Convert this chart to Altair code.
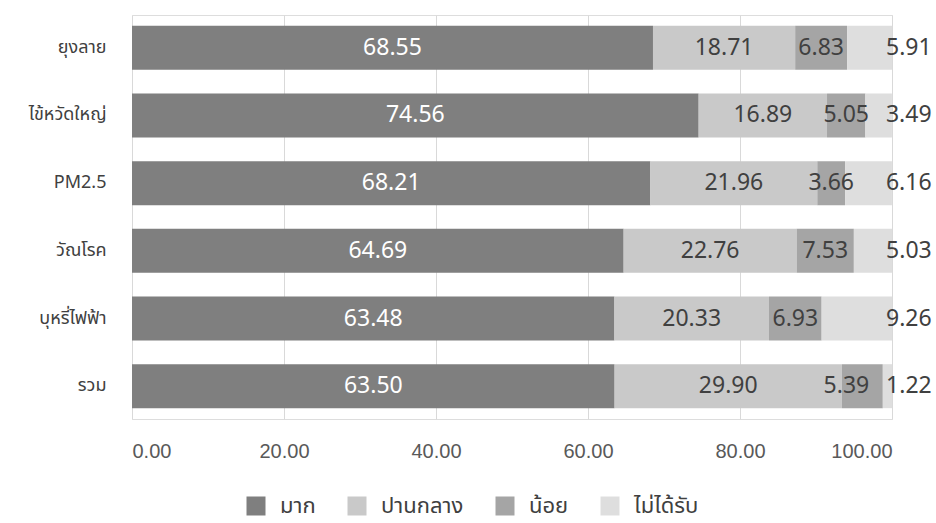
import altair as alt
import pandas as pd

categories = ["ยุงลาย", "ไข้หวัดใหญ่", "PM2.5", "วัณโรค", "บุหรี่ไฟฟ้า", "รวม"]
series = ["มาก", "ปานกลาง", "น้อย", "ไม่ได้รับ"]
much = [68.55, 74.56, 68.21, 64.69, 63.48, 63.50]
medium = [18.71, 16.89, 21.96, 22.76, 20.33, 29.90]
little = [6.83, 5.05, 3.66, 7.53, 6.93, 5.39]
none_ = [5.91, 3.49, 6.16, 5.03, 9.26, 1.22]
colors = ["#7f7f7f", "#c9c9c9", "#a5a5a5", "#dedede"]
x_ticks = [0, 20, 40, 60, 80, 100]

rows = []
for i, cat in enumerate(categories):
    vals = [much[i], medium[i], little[i], none_[i]]
    start = 0.0
    for j, s in enumerate(series):
        rows.append({
            "cat": cat, "series": s, "order": j, "value": vals[j],
            "start": start, "end": start + vals[j],
            "mid": start + vals[j] / 2, "label": f"{vals[j]:.2f}",
        })
        start += vals[j]
df = pd.DataFrame(rows)

FONT = "Tahoma, Leelawadee UI, Noto Sans Thai, Noto Sans, DejaVu Sans, sans-serif"
AXFONT = "Arial, Liberation Sans, sans-serif"

y_enc = alt.Y("cat:N", sort=categories, title=None,
              scale=alt.Scale(paddingInner=0.35, paddingOuter=0.16),
              axis=alt.Axis(labelFontSize=18, labelColor="#404040", labelFont=FONT,
                            labelPadding=26, ticks=False, domain=False))

bars = alt.Chart(df).mark_bar().encode(
    x=alt.X("start:Q", scale=alt.Scale(domain=[0, 100], nice=False), title=None,
            axis=alt.Axis(values=x_ticks, format=".2f", labelFontSize=20,
                          labelColor="#595959", labelFont=AXFONT, labelPadding=22,
                          grid=True, gridColor="#d9d9d9", ticks=False, domain=False)),
    x2="end:Q",
    y=y_enc,
    color=alt.Color("series:N", sort=series,
                    scale=alt.Scale(domain=series, range=colors),
                    legend=alt.Legend(title=None, orient="none", direction="horizontal",
                                      legendX=113, legendY=480, padding=0,
                                      symbolType="square", symbolSize=361,
                                      symbolStrokeWidth=0, labelFontSize=22,
                                      labelFont=FONT, labelColor="#404040",
                                      columnPadding=30, labelOffset=13)),
    order="order:Q",
)

first = alt.Chart(df[df["order"] == 0]).mark_text(
    fontSize=23, color="white", font=FONT, align="center", baseline="middle"
).encode(x="mid:Q", y=alt.Y("cat:N", sort=categories), text="label:N")

middle = alt.Chart(df[df["order"].isin([1, 2])]).transform_calculate(
    xlab="min(datum.mid, 94)"
).mark_text(
    fontSize=23, color="#404040", font=FONT, align="center", baseline="middle"
).encode(x="xlab:Q", y=alt.Y("cat:N", sort=categories), text="label:N")

last = alt.Chart(df[df["order"] == 3]).mark_text(
    fontSize=23, color="#404040", font=FONT, align="left", baseline="middle", dx=-6
).encode(x="end:Q", y=alt.Y("cat:N", sort=categories), text="label:N")

chart = alt.layer(bars, first, middle, last).properties(
    width=760, height=404,
    autosize=alt.AutoSizeParams(type="none"),
    padding={"left": 132, "top": 15, "right": 44, "bottom": 104},
).configure_view(stroke=None).configure(font=FONT)

chart.save("out.html", embed_options={"renderer": "svg", "actions": False})
